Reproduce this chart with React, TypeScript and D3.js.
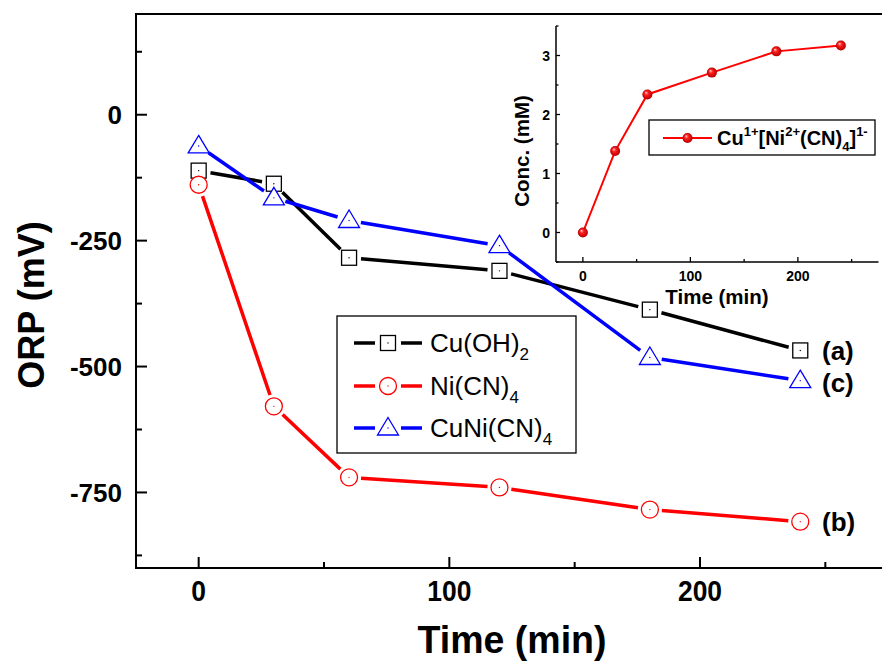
import * as d3 from "d3";

// ---- data ----
const times = [0, 30, 60, 120, 180, 240];
const cuOH2 = [-111, -137, -284, -310, -387, -468];
const niCN4 = [-139, -579, -720, -740, -784, -808];
const cuNiCN4 = [-62, -165, -210, -260, -482, -528];
const concTimes = [0, 30, 60, 120, 180, 240];
const conc = [0, 1.38, 2.34, 2.71, 3.07, 3.17];

const mainYTicks = [0, -250, -500, -750];
const mainYMinor = [125, -125, -375, -625, -875];
const mainXTicks = [0, 100, 200];
const mainXMinor = [50, 150, 250];
const insetYTicks = [0, 1, 2, 3];
const insetYMinor = [-0.5, 0.5, 1.5, 2.5, 3.5];
const insetXTicks = [0, 100, 200];
const insetXMinor = [50, 150, 250];

const endLabels = [
  { text: "(a)", value: -468 },
  { text: "(c)", value: -532 },
  { text: "(b)", value: -808 },
];

const FONT = "'Liberation Sans', Arial, sans-serif";

type Shape = "square" | "circle" | "triangle";

function Marker({ shape, x, y, color }: { shape: Shape; x: number; y: number; color: string }) {
  let el;
  if (shape === "square") {
    el = <rect x={x - 7.5} y={y - 7.5} width={15} height={15} fill="white" stroke={color} strokeWidth={1.3} />;
  } else if (shape === "circle") {
    el = <circle cx={x} cy={y} r={8.5} fill="white" stroke={color} strokeWidth={1.3} />;
  } else {
    el = (
      <path
        d={`M${x},${y - 10.5}L${x + 10.5},${y + 7}L${x - 10.5},${y + 7}Z`}
        fill="white"
        stroke={color}
        strokeWidth={1.3}
      />
    );
  }
  return (
    <g>
      {el}
      <circle cx={x} cy={y} r={0.7} fill={color} />
    </g>
  );
}

// line segments between consecutive points, cut short near the markers
function gappedPath(pts: [number, number][], gap: number) {
  const path = d3.path();
  for (let i = 0; i < pts.length - 1; i++) {
    const [x0, y0] = pts[i];
    const [x1, y1] = pts[i + 1];
    const dx = x1 - x0;
    const dy = y1 - y0;
    const len = Math.hypot(dx, dy);
    if (len <= 2 * gap) continue;
    const ux = dx / len;
    const uy = dy / len;
    path.moveTo(x0 + ux * gap, y0 + uy * gap);
    path.lineTo(x1 - ux * gap, y1 - uy * gap);
  }
  return path.toString();
}

export default function App() {
  // main axes
  const x = d3.scaleLinear().domain([-25, 275]).range([136, 888]);
  const y = d3.scaleLinear().domain([-900, 200]).range([568, 14]);
  // inset axes
  const ix = d3.scaleLinear().domain([-25, 275]).range([556, 878.5]);
  const iy = d3.scaleLinear().domain([-0.5, 3.5]).range([262, 26]);

  const iline = d3
    .line<[number, number]>()
    .x((d) => ix(d[0]))
    .y((d) => iy(d[1]));

  const series = [
    { name: "Cu(OH)", sub: "2", values: cuOH2, color: "#000000", shape: "square" as Shape },
    { name: "Ni(CN)", sub: "4", values: niCN4, color: "#ff0000", shape: "circle" as Shape },
    { name: "CuNi(CN)", sub: "4", values: cuNiCN4, color: "#0000ff", shape: "triangle" as Shape },
  ];

  const legendRows = [343, 386, 428];

  return (
    <svg
      width={882}
      height={665}
      style={{ position: "absolute", left: 0, top: 0, background: "white" }}
    >
      <defs>
        <radialGradient id="ball" cx="0.5" cy="0.5" r="0.55" fx="0.35" fy="0.3">
          <stop offset="0" stopColor="#ffd0d0" />
          <stop offset="0.35" stopColor="#ff2020" />
          <stop offset="0.85" stopColor="#c00000" />
          <stop offset="1" stopColor="#900000" />
        </radialGradient>
        <clipPath id="mainClip">
          <rect x={136} y={14} width={752} height={554} />
        </clipPath>
      </defs>

      {/* main frame */}
      <rect x={136} y={14} width={752} height={554} fill="none" stroke="black" strokeWidth={2} />

      {/* main y ticks */}
      {mainYTicks.map((t) => (
        <g key={"my" + t}>
          <line x1={136} x2={147} y1={y(t)} y2={y(t)} stroke="black" strokeWidth={2} />
          <text
            x={122}
            y={y(t)}
            dy="0.36em"
            textAnchor="end"
            fontFamily={FONT}
            fontWeight="bold"
            fontSize={26}
          >
            {t}
          </text>
        </g>
      ))}
      {mainYMinor.map((t) => (
        <line key={"mym" + t} x1={136} x2={142} y1={y(t)} y2={y(t)} stroke="black" strokeWidth={2} />
      ))}

      {/* main x ticks */}
      {mainXTicks.map((t) => (
        <g key={"mx" + t}>
          <line x1={x(t)} x2={x(t)} y1={568} y2={557} stroke="black" strokeWidth={2} />
          <text
            x={x(t)}
            y={601}
            textAnchor="middle"
            fontFamily={FONT}
            fontWeight="bold"
            fontSize={30}
            transform={`translate(${x(t)},0) scale(0.88,1) translate(${-x(t)},0)`}
          >
            {t}
          </text>
        </g>
      ))}
      {mainXMinor.map((t) => (
        <line key={"mxm" + t} x1={x(t)} x2={x(t)} y1={568} y2={562} stroke="black" strokeWidth={2} />
      ))}

      {/* axis titles */}
      <text
        x={512}
        y={653}
        textAnchor="middle"
        fontFamily={FONT}
        fontWeight="bold"
        fontSize={38}
        textLength={189}
        lengthAdjust="spacingAndGlyphs"
      >
        Time (min)
      </text>
      <text
        transform="translate(44,305) rotate(-90)"
        textAnchor="middle"
        fontFamily={FONT}
        fontWeight="bold"
        fontSize={36}
      >
        ORP (mV)
      </text>

      {/* inset */}
      <line x1={556} x2={556} y1={26} y2={262} stroke="black" strokeWidth={1.5} />
      <line x1={556} x2={878.5} y1={262} y2={262} stroke="black" strokeWidth={1.5} />
      {insetYTicks.map((t) => (
        <g key={"iy" + t}>
          <line x1={556} x2={560} y1={iy(t)} y2={iy(t)} stroke="black" strokeWidth={1.3} />
          <text
            x={550}
            y={iy(t)}
            dy="0.36em"
            textAnchor="end"
            fontFamily={FONT}
            fontWeight="bold"
            fontSize={14}
          >
            {t}
          </text>
        </g>
      ))}
      {insetYMinor.map((t) => (
        <line key={"iym" + t} x1={556} x2={558.5} y1={iy(t)} y2={iy(t)} stroke="black" strokeWidth={1.3} />
      ))}
      {insetXTicks.map((t) => (
        <g key={"ix" + t}>
          <line x1={ix(t)} x2={ix(t)} y1={262} y2={257} stroke="black" strokeWidth={1.3} />
          <text
            x={ix(t)}
            y={281}
            textAnchor="middle"
            fontFamily={FONT}
            fontWeight="bold"
            fontSize={14}
          >
            {t}
          </text>
        </g>
      ))}
      {insetXMinor.map((t) => (
        <line key={"ixm" + t} x1={ix(t)} x2={ix(t)} y1={262} y2={259} stroke="black" strokeWidth={1.3} />
      ))}
      <text x={717} y={304} textAnchor="middle" fontFamily={FONT} fontWeight="bold" fontSize={20.5}>
        Time (min)
      </text>
      <text
        transform="translate(529,151) rotate(-90)"
        textAnchor="middle"
        fontFamily={FONT}
        fontWeight="bold"
        fontSize={20.5}
      >
        Conc. (mM)
      </text>
      <path
        d={iline(concTimes.map((t, i) => [t, conc[i]] as [number, number])) || ""}
        fill="none"
        stroke="#ff0000"
        strokeWidth={2}
      />
      {concTimes.map((t, i) => (
        <circle key={"ic" + i} cx={ix(t)} cy={iy(conc[i])} r={5} fill="url(#ball)" />
      ))}
      {/* inset legend */}
      <rect x={649} y={120} width={226} height={35} fill="white" stroke="black" strokeWidth={1.3} />
      <line x1={663} x2={712} y1={138} y2={138} stroke="#ff0000" strokeWidth={2} />
      <circle cx={687.5} cy={138} r={5} fill="url(#ball)" />
      <text x={717} y={145} fontFamily={FONT} fontWeight="bold" fontSize={20}>
        Cu
        <tspan fontSize={13} dy={-9}>1+</tspan>
        <tspan dy={9}>[Ni</tspan>
        <tspan fontSize={13} dy={-9}>2+</tspan>
        <tspan dy={9}>(CN)</tspan>
        <tspan fontSize={13} dy={6}>4</tspan>
        <tspan dy={-6}>]</tspan>
        <tspan fontSize={13} dy={-9}>1-</tspan>
      </text>

      {/* main series */}
      <g clipPath="url(#mainClip)">
        {series.map((s) => (
          <path
            key={"l" + s.name}
            d={gappedPath(
              times.map((t, i) => [x(t), y(s.values[i])] as [number, number]),
              12
            )}
            fill="none"
            stroke={s.color}
            strokeWidth={3.5}
          />
        ))}
        {series.map((s) =>
          times.map((t, i) => (
            <Marker key={s.name + i} shape={s.shape} x={x(t)} y={y(s.values[i])} color={s.color} />
          ))
        )}
      </g>

      {/* end labels */}
      {endLabels.map((l) => (
        <text
          key={l.text}
          x={822}
          y={y(l.value)}
          dy="0.36em"
          fontFamily={FONT}
          fontWeight="bold"
          fontSize={26}
        >
          {l.text}
        </text>
      ))}

      {/* main legend */}
      <rect x={337} y={316} width={239} height={137} fill="white" stroke="black" strokeWidth={1.3} />
      {series.map((s, i) => (
        <g key={"lg" + s.name}>
          <line x1={354} x2={375} y1={legendRows[i]} y2={legendRows[i]} stroke={s.color} strokeWidth={3.5} />
          <line x1={401} x2={422} y1={legendRows[i]} y2={legendRows[i]} stroke={s.color} strokeWidth={3.5} />
          <Marker shape={s.shape} x={388} y={legendRows[i]} color={s.color} />
          <text x={430} y={legendRows[i]} dy="0.36em" fontFamily={FONT} fontSize={26}>
            {s.name}
            <tspan fontSize={17} dy={8}>{s.sub}</tspan>
          </text>
        </g>
      ))}
    </svg>
  );
}
